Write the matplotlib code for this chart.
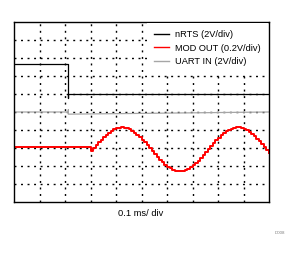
import matplotlib
matplotlib.use("Agg")
import matplotlib.pyplot as plt

plt.rcParams['font.family'] = ['Liberation Sans', 'DejaVu Sans']

# Data (x in divisions, y in divisions from bottom)
nrts_x = [0.0, 2.13, 2.13, 2.13, 10.0]
nrts_y = [7.69, 7.69, 5.80, 6.02, 6.02]

uart_x = [0.0, 2.13, 2.13, 2.13, 10.0]
uart_y = [5.00, 5.00, 5.12, 4.88, 5.00]

mod_x = [0.0, 2.95] + [round(3.0 + 0.1 * k, 2) for k in range(71)]
mod_y = [3.08, 3.08,
         2.81, 2.98, 3.15, 3.31, 3.46, 3.61, 3.74, 3.86, 3.96, 4.03,
         4.09, 4.13, 4.14, 4.13, 4.10, 4.04, 3.96, 3.86, 3.75, 3.62,
         3.47, 3.32, 3.16, 2.99, 2.82, 2.66, 2.49, 2.34, 2.20, 2.08,
         1.97, 1.87, 1.80, 1.75, 1.72, 1.72, 1.74, 1.78, 1.85, 1.93,
         2.04, 2.16, 2.29, 2.44, 2.60, 2.76, 2.93, 3.10, 3.26, 3.42,
         3.56, 3.70, 3.82, 3.93, 4.01, 4.08, 4.12, 4.14, 4.14, 4.11,
         4.06, 3.99, 3.90, 3.79, 3.66, 3.52, 3.37, 3.21, 3.04, 2.88,
         2.71]

labels = ["nRTS (2V/div)", "MOD OUT (0.2V/div)", "UART IN (2V/div)"]
colors = ["#000000", "#ff0000", "#a6a6a6"]
xlabel = "0.1 ms/ div"
code = "D008"

fig = plt.figure(figsize=(3.02, 2.54), dpi=100)
ax = fig.add_axes([14/302, 1-202/254, 255/302, 180/254])
ax.set_xlim(0, 10)
ax.set_ylim(0, 10)

for v in range(1, 10):
    ax.axvline(v, color='black', lw=1.0, linestyle=(0, (1.4, 3.3)), zorder=0)
    ax.axhline(v, color='black', lw=1.0, linestyle=(0, (1.4, 3.3)), zorder=0)

ax.plot(nrts_x, nrts_y, color=colors[0], lw=0.9, label=labels[0])
ax.plot(mod_x, mod_y, color=colors[1], lw=1.4, drawstyle='steps-post', label=labels[1])
ax.plot(uart_x, uart_y, color=colors[2], lw=0.9, label=labels[2])

ax.set_xticks([])
ax.set_yticks([])
for s in ax.spines.values():
    s.set_linewidth(1.0)
    s.set_color('black')

leg = ax.legend(loc='upper right', frameon=True, fontsize=6.7,
                handlelength=1.7, handletextpad=0.65, labelspacing=0.5,
                bbox_to_anchor=(1.0, 1.0), borderaxespad=0.15, borderpad=0.7,
                fancybox=False, framealpha=1.0)
leg.get_frame().set_facecolor('white')
leg.get_frame().set_edgecolor('none')
for h in leg.get_lines():
    h.set_linewidth(1.0)

fig.text(141/302, 1-213/254, xlabel, ha='center', va='center', fontsize=6.7)
fig.text(280/302, 1-233/254, code, ha='center', va='center', fontsize=3.2, color='#808080')

fig.savefig("out.png", dpi=100)
